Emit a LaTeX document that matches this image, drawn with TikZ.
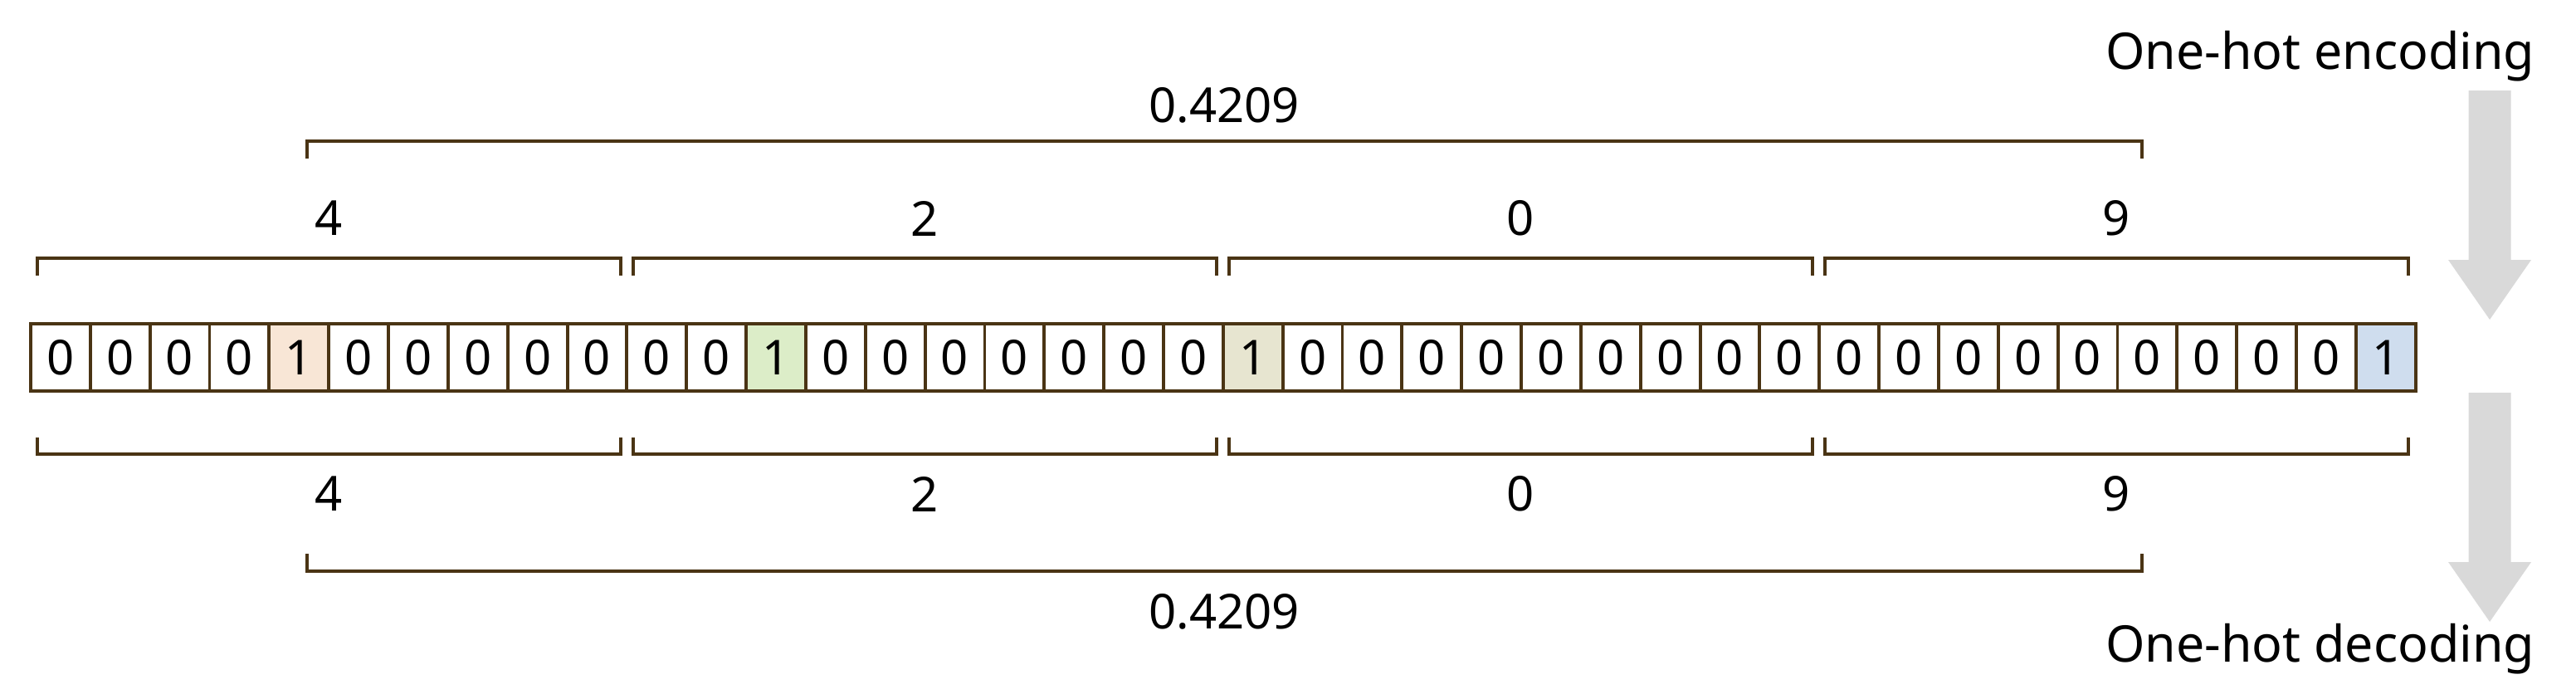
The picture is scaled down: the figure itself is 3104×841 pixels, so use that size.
\documentclass[tikz,border=0pt]{standalone}
\usepackage{fontspec}
\setmainfont{Noto Sans}
\usetikzlibrary{positioning}
\definecolor{brn}{RGB}{74,52,20}
\definecolor{peach}{RGB}{248,230,214}
\definecolor{leaf}{RGB}{220,237,200}
\definecolor{khaki}{RGB}{231,229,208}
\definecolor{sky}{RGB}{207,221,238}
\definecolor{arrowgray}{RGB}{217,217,217}

\begin{document}
\begin{tikzpicture}[x=0.01cm,y=-0.01cm]
\tikzset{cell/.style={draw=brn,line width=1.1pt,minimum width=0.718cm,minimum height=0.81cm,
    inner sep=0pt,outer sep=0pt,font=\fontsize{16.5}{18}\selectfont,node contents=0},
  hot5/.style={fill=peach,node contents=1},
  hot13/.style={fill=leaf,node contents=1},
  hot21/.style={fill=khaki,node contents=1},
  hot40/.style={fill=sky,node contents=1},
  brace/.style={draw=brn,line width=1.3pt},
  lbl/.style={inner sep=0pt,font=\fontsize{16.5}{18}\selectfont},
  caption/.style={inner sep=0pt,anchor=base east,font=\fontsize{17.3}{20}\selectfont},
  bigarrow/.style={fill=arrowgray}}
\useasboundingbox (0,0) rectangle (3104,841);
% one-hot vector
\node (c1) at (72.9,430.5) [cell];
\foreach \i in {2,...,40}{
  \pgfmathtruncatemacro\p{\i-1}
  \node (c\i) [cell,right=0pt of c\p,hot\i/.try];
}
% digit braces
\foreach \g/\d in {0/4,1/2,2/0,3/9}{
  \pgfmathsetmacro\xa{45+\g*718}
  \pgfmathsetmacro\xb{748+\g*718}
  \pgfmathsetmacro\xm{396+\g*718}
  \draw[brace] (\xa,332) -- (\xa,311) -- (\xb,311) -- (\xb,332);
  \draw[brace] (\xa,527) -- (\xa,547) -- (\xb,547) -- (\xb,527);
  \node[lbl] (up\g) at (\xm,263) {\d};
  \node[lbl] (dn\g) at (\xm,595) {\d};
}
% number braces
\draw[brace] (370,191) -- (370,170) -- (2581,170) -- (2581,191);
\draw[brace] (370,667) -- (370,688) -- (2581,688) -- (2581,667);
\node[lbl] (numup) at (1475,127) {0.4209};
\node[lbl] (numdn) at (1475,737) {0.4209};
% arrows
\foreach \t in {109,473}
  \fill[bigarrow] (2974.5,\t) -- (3025.5,\t) -- (3025.5,\t+204) -- (3050,\t+204)
    -- (3000,\t+276) -- (2950,\t+204) -- (2974.5,\t+204) -- cycle;
\node[caption] (enc) at (3055,83) {One-hot encoding};
\node[caption] (dec) at (3055,797) {One-hot decoding};
\end{tikzpicture}
\end{document}
